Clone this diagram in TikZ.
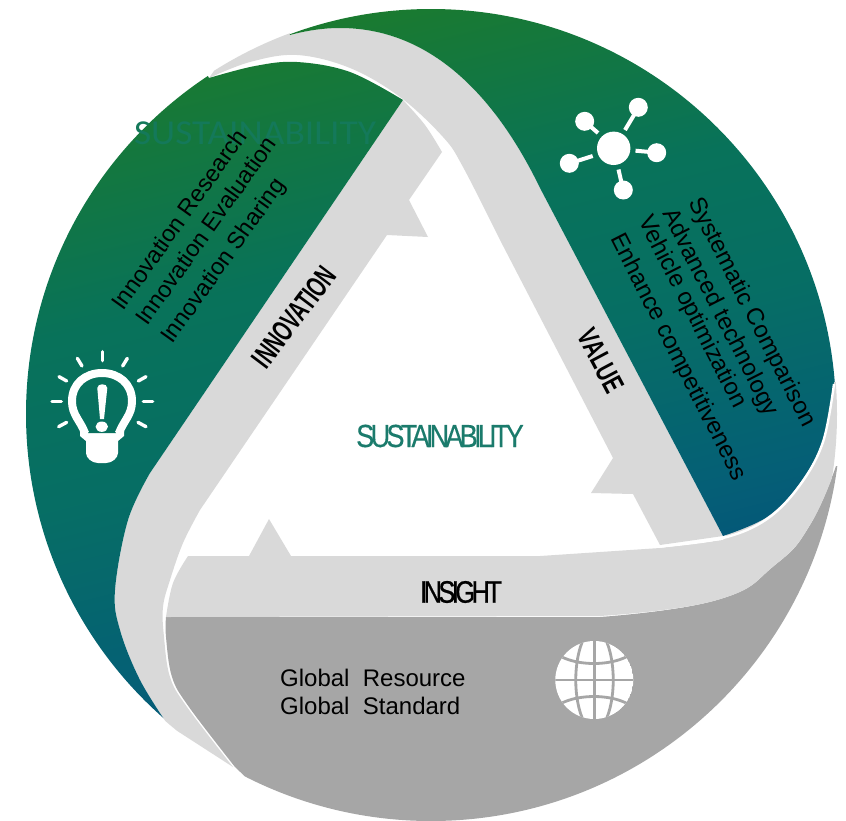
\documentclass[tikz,border=0pt]{standalone}
\usepackage{fontspec}
\setmainfont{Liberation Sans}
\newfontfamily\tightfont[LetterSpace=-14,FakeBold=0.35]{Liberation Sans}
\newfontfamily\insightfont[LetterSpace=-14,FakeBold=0.8]{Liberation Sans}
\newfontfamily\ghostfont{Carlito}
\definecolor{gA}{HTML}{045878}
\definecolor{gB}{HTML}{055F76}
\definecolor{gC}{HTML}{066E64}
\definecolor{gD}{HTML}{08725A}
\definecolor{gE}{HTML}{1A7A30}
\definecolor{gMid}{HTML}{08705E}
\definecolor{bandgray}{HTML}{D9D9D9}
\definecolor{darkgray}{HTML}{A6A6A6}
\definecolor{tealtext}{HTML}{1B7B6C}
\definecolor{ghost}{HTML}{14795A}
\pgfdeclareverticalshading{greenfade}{100bp}{
  color(0bp)=(gA);
  color(25bp)=(gA);
  color(30bp)=(gB);
  color(45bp)=(gC);
  color(57bp)=(gD);
  color(75bp)=(gE);
  color(100bp)=(gE)}
\tikzset{
  greenfill/.style={shading=greenfade,shading angle=14},
  bodytext/.style={font=\fontsize{23.5}{28}\selectfont,text=black,inner sep=0pt},
  globaltext/.style={font=\fontsize{24}{28}\selectfont,text=black,inner sep=0pt},
  ray/.style={white,line width=3.4pt,line cap=round},
  spoke/.style={white,line width=4pt},
  gridline/.style={darkgray,line width=2.8pt},
}
\begin{document}
\begin{tikzpicture}[x=1pt,y=-1pt]
\useasboundingbox (0,0) rectangle (846,820);
% dark lower region
\begin{scope}
\clip (431,411) circle [radius=410];
\fill[darkgray] (166,617) -- (600,617) -- plot[smooth,tension=.8] coordinates {(600,617) (717,600) (775,565) (810,525) (836,466)}
  -- (900,470) -- (900,860) -- (240,860) -- (255,786) -- plot[smooth,tension=.6] coordinates {(235,767) (189,707) (172,677) (166,637) (166,617)} -- cycle;
\end{scope}
% light bands
\begin{scope}
\clip (431,414) circle [radius=406];
\fill[bandgray] (188,556) -- (249,556) -- (269,519) -- (291,556) -- (540,556) -- (660,548) -- (723,540) -- (834,382) -- (860,382) -- (860,468) -- (836,467)
  -- plot[smooth,tension=.8] coordinates {(836,467) (810,525) (775,565) (717,600) (600,616)} -- (166,617)
  -- plot[smooth,tension=.6] coordinates {(166,617) (173,583) (188,556)} -- cycle;
\fill[bandgray] (403,100) -- (150,473) -- plot[smooth,tension=.6] coordinates {(150,473) (128,520) (115,590) (120,630) (140,680) (168,725)}
  -- (233,767) -- plot[smooth,tension=.6] coordinates {(233,767) (187,707) (170,677) (164,637) (163,607) (170,580) (183,543) (200,510)}
  -- (387,235) -- (428,237) -- (409,200) -- (442,152) -- plot[smooth,tension=.6] coordinates {(442,152) (425,125) (403,100)} -- cycle;
\fill[bandgray] (209,78) -- (250,20) -- (290,20) -- (290,35) .. controls (305,31) and (322,28) .. (340,28) .. controls (430,28) and (495,95) .. (540,188)
  -- (723,536) -- (660,545) -- (633,494) -- (591,493) -- (613,458) -- (500,240)
  -- plot[smooth,tension=.6] coordinates {(500,240) (463,167) (443,137) (400,97) (350,68) (297,55) (250,62) (209,78)} -- cycle;
\end{scope}
% green regions
\begin{scope}
\clip (431,414) circle [radius=405];
\begin{scope}
\clip (209,78) -- plot[smooth,tension=.6] coordinates {(209,78) (255,66) (297,62) (350,72) (403,100)}
  -- (150,473) -- plot[smooth,tension=.6] coordinates {(150,473) (128,520) (115,590) (120,630) (140,680) (168,725)}
  -- (60,800) -- (-30,600) -- (-30,-30) -- (150,-30) -- cycle;
\shade[greenfill] (-120,60) rectangle (550,730);
\end{scope}
\begin{scope}
\clip (290,35) .. controls (305,31) and (322,28) .. (340,28) .. controls (430,28) and (495,95) .. (540,188)
  -- (723,536) -- plot[smooth,tension=.6] coordinates {(723,536) (767,517) (800,483) (823,440) (834,382)}
  -- (900,380) -- (900,-30) -- (280,-30) -- cycle;
\shade[greenfill] (260,-25) rectangle (860,575);
\end{scope}
\end{scope}
% white seams
\draw[white,line width=2.4pt] plot[smooth,tension=.6] coordinates {(660,546.5) (723,538) (767,519) (800,485) (823,442) (834,384)};
% ghost title
\node[inner sep=0pt,text=ghost] (ghosttitle) at (255,133) {\scalebox{1.07}[1]{\ghostfont\fontsize{35}{40}\selectfont SUSTAINABILITY}};
% texts
\node[bodytext,anchor=base west,rotate=54.5] (inn1) at (123,312) {Innovation Research};
\node[bodytext,anchor=base west,rotate=54.5] (inn2) at (147,327) {Innovation Evaluation};
\node[bodytext,anchor=base west,rotate=54.5] (inn3) at (172,345) {Innovation Sharing};
\node[globaltext,anchor=base west,rotate=-63] (val1) at (688,202) {Systematic Comparison};
\node[globaltext,anchor=base west,rotate=-63] (val2) at (662,213) {Advanced technology};
\node[globaltext,anchor=base west,rotate=-63] (val3) at (638,220) {Vehicle optimization};
\node[globaltext,anchor=base west,rotate=-63] (val4) at (610,238) {Enhance competitiveness};
\node[globaltext,anchor=base west] (glo1) at (280,686) {Global\ \ Resource};
\node[globaltext,anchor=base west] (glo2) at (280,714) {Global\ \ Standard};
\node[inner sep=0pt,text=tealtext] (centre) at (440,436) {\scalebox{.85}[1]{\tightfont\fontsize{32}{36}\selectfont SUSTAINABILITY}};
\node[inner sep=0pt,text=black] (insight) at (461,592) {\scalebox{.82}[1]{\insightfont\fontsize{31}{36}\selectfont INSIGHT}};
\node[inner sep=0pt,text=black,rotate=53] (innov) at (294,317) {\scalebox{.64}[1]{\bfseries\fontsize{30}{34}\selectfont INNOVATION}};
\node[inner sep=0pt,text=black,rotate=-62] (value) at (601,361) {\scalebox{.7}[1]{\bfseries\fontsize{29}{34}\selectfont VALUE}};
% light bulb icon
\draw[white,line width=8pt] (85,433) .. controls (80,420) and (72,415) .. (72,401) .. controls (72,384) and (85,373) .. (102,373) .. controls (119,373) and (132,384) .. (132,401) .. controls (132,415) and (124,420) .. (119,433);
\fill[white] (80,431) -- (124,431) -- (124,436) -- (118,441) -- (118,453) .. controls (118,458) and (112,463) .. (106,463) -- (98,463) .. controls (92,463) and (86,458) .. (86,453) -- (86,441) -- (80,436) -- cycle;
\fill[gMid] (90,430) -- (114,430) -- (116,433) -- (88,433) -- cycle;
\fill[white] (97.3,388) .. controls (97.3,383) and (107.3,383) .. (107.3,388) -- (104,419) -- (100,419) -- cycle;
\fill[white] (101.8,426.7) ellipse [x radius=6.2,y radius=5.2];
\foreach \xa/\ya/\xb/\yb in {247/65/247/92,172/85/186/108,322/85/308/108,117/140/140/153,378/140/355/153,96/214/124/214,398/214/370/214,116/290/140/277,378/290/354/277}
  \draw[ray] ({20+\xa/3},{330+\ya/3}) -- ({20+\xb/3},{330+\yb/3});
% network icon
\fill[white] (613.7,148.3) circle [radius=16.7];
\foreach \cx/\cy/\ax/\ay/\bx/\by in {638.3/107.3/625/130/634/115,584.7/121.3/598/133/590/126,656.7/152.7/635.5/150.7/650/152,569.3/163.3/592.7/156/577/161,623.3/190/618.5/169.5/622/185}{
  \fill[white] (\cx,\cy) circle [radius=9.5];
  \draw[spoke] (\ax,\ay) -- (\bx,\by);
}
% globe icon
\begin{scope}
\clip (594.3,680) circle [radius=39];
\fill[white] (594.3,680) circle [radius=39];
\draw[gridline] (550,680) -- (640,680);
\draw[gridline] (594.3,635) -- (594.3,725);
\draw[gridline] (584,638) .. controls (573,660) and (573,700) .. (584,722);
\draw[gridline] (605,638) .. controls (616,660) and (616,700) .. (605,722);
\draw[gridline] (560,656) .. controls (578,666) and (610,666) .. (628,656);
\draw[gridline] (560,704) .. controls (578,694) and (610,694) .. (628,704);
\end{scope}
\end{tikzpicture}
\end{document}
